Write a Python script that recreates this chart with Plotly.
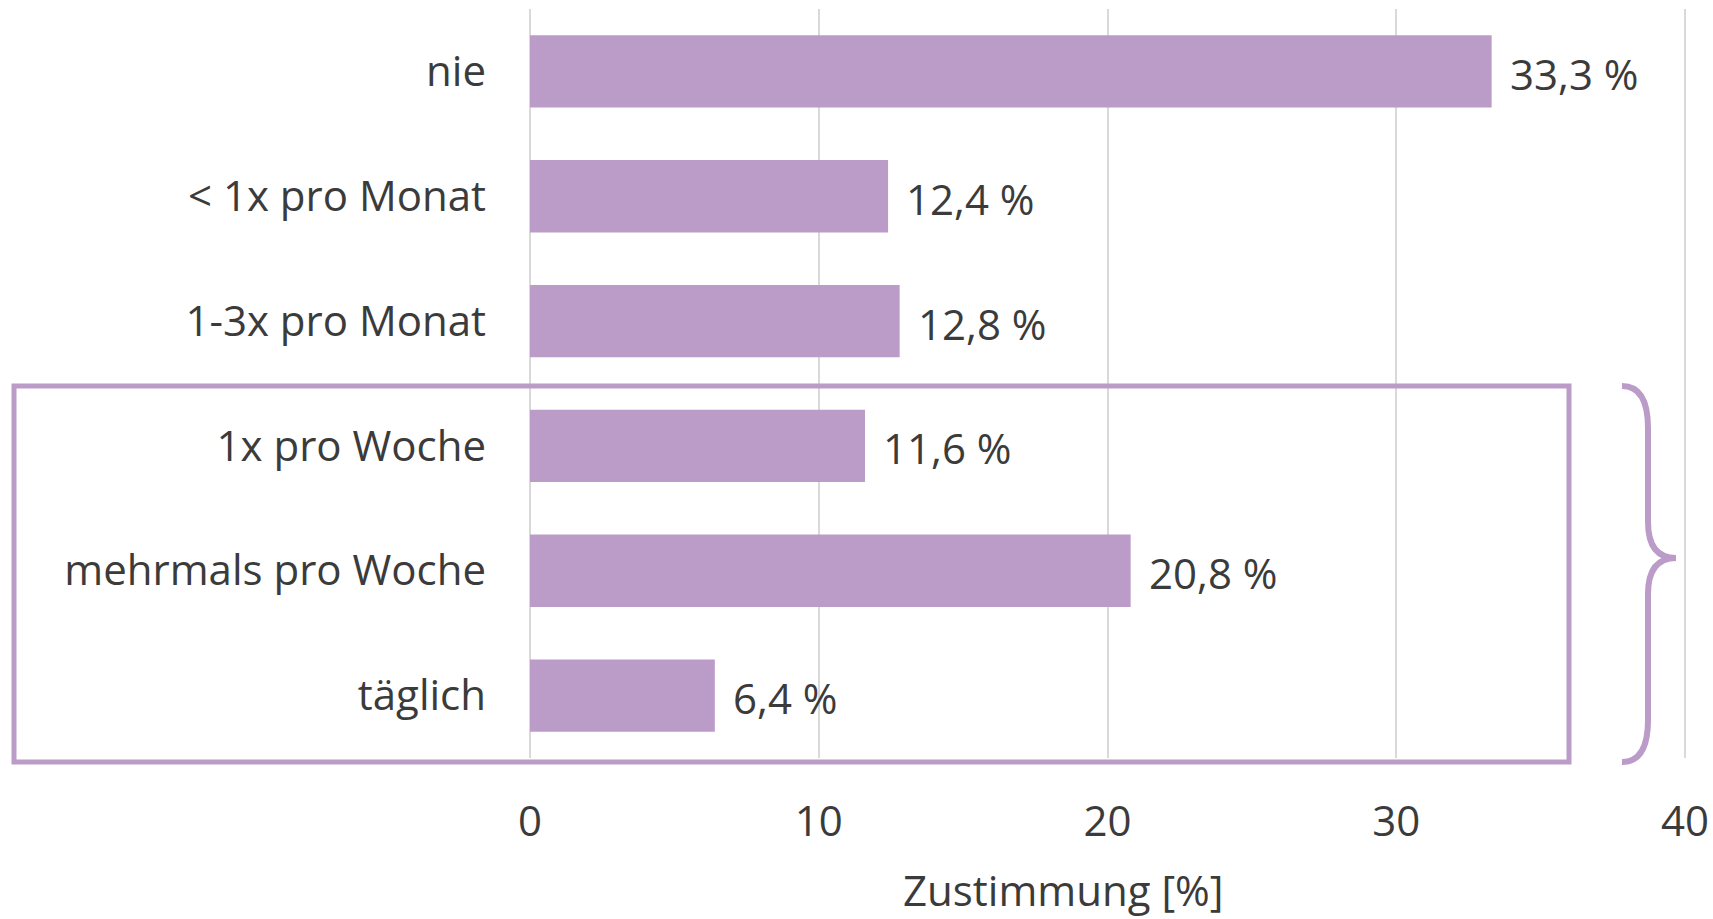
import plotly.graph_objects as go

categories = ["nie", "< 1x pro Monat", "1-3x pro Monat", "1x pro Woche", "mehrmals pro Woche", "täglich"]
values = [33.3, 12.4, 12.8, 11.6, 20.8, 6.4]
labels = ["33,3 %", "12,4 %", "12,8 %", "11,6 %", "20,8 %", "6,4 %"]
x_ticks = [0, 10, 20, 30, 40]
x_title = "Zustimmung [%]"

PURPLE = "#BB9BC7"
TEXT = "#3b3b3b"
GRID = "#d9d9d9"
FONT = "Open Sans"
FS = 42

W, H = 1713, 919
L, R, T, B = 530, 25, 9, 161
pw, ph = W - L - R, H - T - B


def px(x):
    return (x - L) / pw


def py(y):
    return (H - B - y) / ph


fig = go.Figure()
fig.add_trace(go.Bar(
    x=values, y=categories, orientation="h",
    marker=dict(color=PURPLE, line=dict(width=0)),
    hoverinfo="skip",
))

for v, c, t in zip(values, categories, labels):
    fig.add_annotation(x=v, y=c, text=t, showarrow=False, xanchor="left", yanchor="middle",
                       xshift=16, yshift=-2, font=dict(family=FONT, size=FS, color=TEXT))

# axis title
fig.add_annotation(xref="paper", yref="paper", x=px(1063), y=py(890), text=x_title,
                   showarrow=False, xanchor="center", yanchor="middle",
                   font=dict(family=FONT, size=FS, color=TEXT))

# rectangle around the weekly group
fig.add_shape(type="rect", xref="paper", yref="paper",
              x0=px(14), x1=px(1569), y0=py(762), y1=py(386),
              line=dict(color=PURPLE, width=5), fillcolor="rgba(0,0,0,0)", layer="above")

# curly brace
path = (f"M {px(1622)},{py(386)} Q {px(1648)},{py(386)} {px(1648)},{py(428)} "
        f"L {px(1648)},{py(522)} Q {px(1648)},{py(558)} {px(1676)},{py(558)} "
        f"Q {px(1648)},{py(558)} {px(1648)},{py(594)} "
        f"L {px(1648)},{py(720)} Q {px(1648)},{py(762)} {px(1622)},{py(762)}")
fig.add_shape(type="path", xref="paper", yref="paper", path=path,
              line=dict(color=PURPLE, width=6), layer="above")

fig.update_layout(
    width=W, height=H,
    margin=dict(l=L, r=R, t=T, b=B, autoexpand=False),
    paper_bgcolor="white", plot_bgcolor="white",
    bargap=0.42, showlegend=False,
    font=dict(family=FONT, size=FS, color=TEXT),
)
fig.update_xaxes(
    range=[0, 40.1], tickvals=x_ticks, ticktext=[str(v) for v in x_ticks],
    showgrid=True, gridcolor=GRID, gridwidth=2,
    zeroline=True, zerolinecolor=GRID, zerolinewidth=2,
    showline=False, ticks="", ticklabelstandoff=35, automargin=False,
    tickfont=dict(family=FONT, size=FS, color=TEXT),
    fixedrange=True,
)
fig.update_yaxes(
    categoryorder="array", categoryarray=categories, autorange="reversed",
    showgrid=False, showline=False, ticks="", ticklabelstandoff=43, automargin=False,
    tickfont=dict(family=FONT, size=FS, color=TEXT),
    fixedrange=True,
)

fig.write_html("out.html", config={"displayModeBar": False},
               post_script="document.body.style.margin='0';document.body.style.overflow='hidden';")
